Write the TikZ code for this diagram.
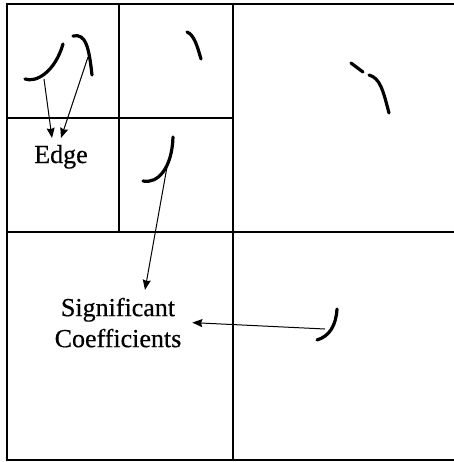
\documentclass[tikz,border=0pt]{standalone}
\usepackage{fontspec}
\setmainfont{Liberation Serif}
\newfontfamily\scanfont{Liberation Serif}[UprightFeatures={FakeBold=0.5}]
\usetikzlibrary{arrows.meta,calc}
\begin{document}
\begin{tikzpicture}[x=0.5pt,y=-0.5pt,
  frame/.style={line width=0.65pt},
  stroke/.style={line width=1.6pt,line cap=round},
  pointer/.style={line width=0.5pt,-{Stealth[length=5pt,width=4pt,inset=0.6pt]}},
  lbl/.style={font=\scanfont\fontsize{13}{15.5}\selectfont,outer sep=0pt}]
\useasboundingbox (0,0) rectangle (454,462);
% grid
\draw[frame] (460,4) -- (7,4) -- (7,460) -- (460,460);
\draw[frame] (233,4) -- (233,460);
\draw[frame] (7,232) -- (460,232);
\draw[frame] (119,4) -- (119,232);
\draw[frame] (7,118) -- (233,118);
% edge strokes
\draw[stroke] (25,79) .. controls (36,83) and (55,72) .. (63,44);
\draw[stroke] (73,36) .. controls (86,33) and (89,48) .. (92,75);
\draw[stroke] (187,32) .. controls (194,35) and (197,45) .. (201,59);
\draw[stroke] (143,181) .. controls (158,184) and (172,168) .. (173,137);
\draw[stroke] (351,63) -- (363,72);
\draw[stroke] (369,75) .. controls (380,78) and (383,90) .. (389,113);
\draw[stroke] (317,340) .. controls (330,336) and (336,325) .. (337,309);
% arrow origins
\coordinate (e1) at (44,79);
\coordinate (e2) at (88,57);
\coordinate (s1) at (167,167);
\coordinate (s2) at (325,329);
% labels
\node[lbl,inner sep=3.5pt,anchor=base] (edge) at (61,163) {Edge};
\node[lbl,align=center,inner xsep=5.5pt,inner ysep=4pt] (sig) at (118,322.6) {Significant\\Coefficients};
% connectors
\draw[pointer] (e1) -- ($(edge.north)+(-4.5pt,0pt)$);
\draw[pointer] (e2) -- (edge.north);
\draw[pointer] (s1) -- ($(sig.north)+(13.5pt,0pt)$);
\draw[pointer] (s2) -- (sig.east);
\end{tikzpicture}
\end{document}
